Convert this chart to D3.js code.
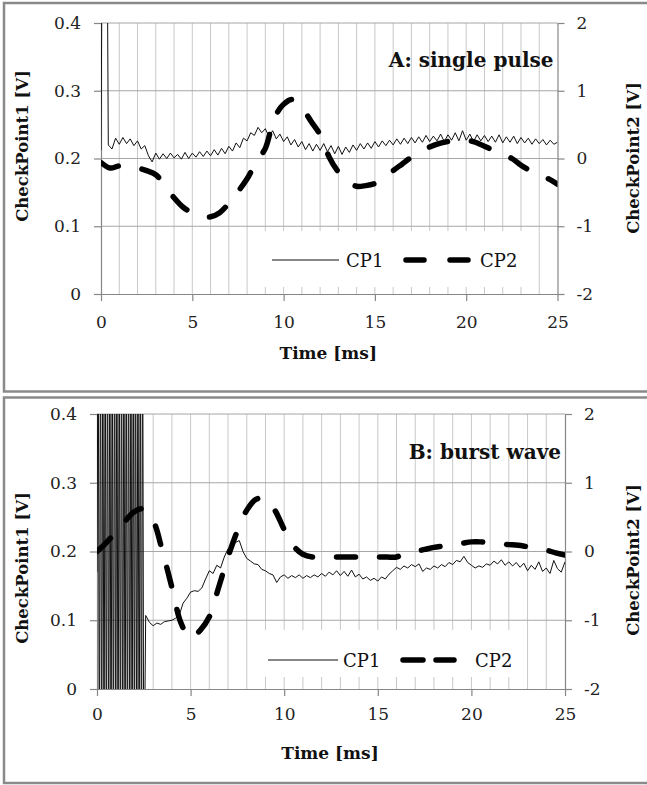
<!DOCTYPE html>
<html>
<head>
<meta charset="utf-8">
<script src="https://cdn.jsdelivr.net/npm/d3@7"></script>
<style>
  body { margin: 0; background: #fff; }
  svg { display: block; font-family: "DejaVu Serif", serif; }
  svg text { font-family: "DejaVu Serif", serif; }
</style>
</head>
<body>
<svg id="chart" width="647" height="785"></svg>
<script>
// ── Data ──
const xTicks = [0, 5, 10, 15, 20, 25];
const yTicksLeft = [0, 0.1, 0.2, 0.3, 0.4];
const yTicksRight = [-2, -1, 0, 1, 2];
const seriesNames = ["CP1", "CP2"];
const panelTitles = ["A: single pulse", "B: burst wave"];
const xTitle = "Time [ms]";
const yTitleLeft = "CheckPoint1 [V]";
const yTitleRight = "CheckPoint2 [V]";

// Panel A, CP1: one sample every 0.2 ms from 0 ms
const cp1AStart = 0, cp1AStep = 0.2;
const cp1A = [
  0.212, 1.20, 0.220, 0.214, 0.230, 0.221, 0.231, 0.222, 0.229, 0.219,
  0.226, 0.214, 0.219, 0.204, 0.195, 0.208, 0.199, 0.207, 0.200, 0.208,
  0.201, 0.206, 0.199, 0.209, 0.200, 0.208, 0.202, 0.210, 0.203, 0.211,
  0.204, 0.213, 0.205, 0.215, 0.207, 0.218, 0.211, 0.223, 0.216, 0.230,
  0.226, 0.238, 0.234, 0.246, 0.238, 0.244, 0.232, 0.241, 0.229, 0.236,
  0.225, 0.232, 0.220, 0.228, 0.217, 0.225, 0.213, 0.222, 0.211, 0.221,
  0.212, 0.222, 0.210, 0.219, 0.207, 0.218, 0.206, 0.217, 0.209, 0.220,
  0.212, 0.222, 0.214, 0.223, 0.215, 0.225, 0.217, 0.226, 0.219, 0.227,
  0.220, 0.229, 0.221, 0.230, 0.222, 0.231, 0.223, 0.232, 0.224, 0.234,
  0.225, 0.233, 0.226, 0.236, 0.225, 0.235, 0.227, 0.238, 0.226, 0.241,
  0.227, 0.236, 0.225, 0.235, 0.226, 0.234, 0.225, 0.233, 0.224, 0.235,
  0.223, 0.232, 0.224, 0.233, 0.222, 0.231, 0.223, 0.230, 0.221, 0.229,
  0.222, 0.228, 0.220, 0.227, 0.221, 0.224
];

// CP2: one sample every 0.5 ms from 0 ms (right axis)
const cp2Start = 0, cp2Step = 0.5;
const cp2A = [
  -0.06, -0.14, -0.11, -0.12, -0.14, -0.18, -0.24, -0.40, -0.58, -0.72,
  -0.80, -0.85, -0.86, -0.80, -0.66, -0.49, -0.30, -0.05, 0.15, 0.60,
  0.80, 0.87, 0.75, 0.55, 0.35, 0.02, -0.20, -0.34, -0.41, -0.40,
  -0.37, -0.30, -0.18, -0.08, 0.02, 0.10, 0.17, 0.22, 0.25, 0.27,
  0.27, 0.24, 0.18, 0.12, 0.06, 0.00, -0.10, -0.18, -0.25, -0.30,
  -0.38
];

// Panel B, CP1 burst: one sample every 0.0625 ms from 0 to 2.5 ms
const burstStart = 0, burstStep = 0.0625;
const cp1BBurst = [
  0.17, 0.60, -0.20, 0.60, -0.20, 0.60, -0.20, 0.60, -0.20, 0.60,
  -0.20, 0.60, -0.20, 0.60, -0.20, 0.60, -0.20, 0.60, -0.20, 0.60,
  -0.20, 0.60, -0.20, 0.60, -0.20, 0.60, -0.20, 0.60, -0.20, 0.60,
  -0.20, 0.60, -0.20, 0.60, -0.20, 0.60, -0.20, 0.60, -0.20, 0.60,
  -0.20
];

// Panel B, CP1 after the burst: one sample every 0.2 ms from 2.6 ms
const cp1BStart = 2.6, cp1BStep = 0.2;
const cp1B = [
  0.107, 0.097, 0.092, 0.096, 0.094, 0.098, 0.099, 0.100, 0.103, 0.108,
  0.125, 0.132, 0.141, 0.143, 0.142, 0.147, 0.160, 0.172, 0.168, 0.180,
  0.176, 0.192, 0.204, 0.208, 0.213, 0.216, 0.200, 0.190, 0.186, 0.182,
  0.181, 0.174, 0.172, 0.168, 0.166, 0.155, 0.163, 0.166, 0.161, 0.165,
  0.162, 0.166, 0.161, 0.165, 0.162, 0.166, 0.163, 0.168, 0.164, 0.170,
  0.166, 0.172, 0.165, 0.171, 0.164, 0.173, 0.163, 0.167, 0.160, 0.163,
  0.158, 0.161, 0.157, 0.163, 0.160, 0.167, 0.172, 0.177, 0.174, 0.179,
  0.176, 0.181, 0.178, 0.182, 0.171, 0.176, 0.174, 0.179, 0.176, 0.181,
  0.178, 0.184, 0.181, 0.187, 0.185, 0.193, 0.184, 0.180, 0.176, 0.179,
  0.177, 0.182, 0.180, 0.186, 0.182, 0.188, 0.180, 0.185, 0.179, 0.184,
  0.177, 0.183, 0.172, 0.180, 0.174, 0.185, 0.171, 0.176, 0.168, 0.187,
  0.175, 0.170, 0.185
];

const cp2B = [
  0.00, 0.13, 0.28, 0.44, 0.58, 0.62, 0.45, 0.00, -0.52, -1.05,
  -1.26, -1.15, -0.95, -0.52, -0.08, 0.30, 0.60, 0.76, 0.77, 0.60,
  0.32, 0.08, -0.04, -0.08, -0.08, -0.08, -0.08, -0.08, -0.08, -0.08,
  -0.08, -0.08, -0.08, -0.02, 0.00, 0.03, 0.06, 0.08, 0.10, 0.12,
  0.14, 0.14, 0.12, 0.11, 0.10, 0.09, 0.07, 0.05, 0.02, -0.02,
  -0.05
];

// ── Helpers ──
const toPoints = (vals, start, step) => vals.map((v, i) => ({ t: start + i * step, v }));

const AXIS = "#868686", GRID_H = "#a6a6a6", GRID_V = "#c8c8c8";
const FONT = "'DejaVu Serif', serif";

const panels = [
  {
    title: panelTitles[0],
    frame: { y0: 3, y1: 391.5 },
    plot: { l: 101, r: 557.5, t: 23, b: 294 },
    cp1: toPoints(cp1A, cp1AStart, cp1AStep),
    cp2: toPoints(cp2A, cp2Start, cp2Step),
    titleY: 67, xTitleY: 359, yTitleLeftY: 146, yTitleRightY: 158,
    xPad: 15,
    legend: { x: 255, y: 231, w: 277, h: 56, cy: 260,
      line: [272, 339], t1: 346, dash: [406, 468], dashArr: "18,26", t2: 480 }
  },
  {
    title: panelTitles[1],
    frame: { y0: 397.5, y1: 783 },
    plot: { l: 97, r: 565, t: 414, b: 689 },
    cp1: toPoints(cp1BBurst, burstStart, burstStep).concat(toPoints(cp1B, cp1BStart, cp1BStep)),
    cp2: toPoints(cp2B, cp2Start, cp2Step),
    titleY: 459, xTitleY: 759, yTitleLeftY: 568, yTitleRightY: 560,
    xPad: 12,
    legend: { x: 252, y: 630, w: 268, h: 47, cy: 660,
      line: [268, 338], t1: 343, dash: [403, 454], dashArr: "20,13", t2: 475 }
  }
];

const svg = d3.select("#chart");
const defs = svg.append("defs");

panels.forEach((p, pi) => {
  const P = p.plot;
  const g = svg.append("g");

  // ── Panel frame ──
  g.append("rect")
    .attr("x", 4).attr("y", p.frame.y0)
    .attr("width", 660).attr("height", p.frame.y1 - p.frame.y0)
    .attr("fill", "#fff").attr("stroke", "#8a8a8a").attr("stroke-width", 2.5);

  const x = d3.scaleLinear().domain([0, 25]).range([P.l, P.r]);
  const yL = d3.scaleLinear().domain([0, 0.4]).range([P.b, P.t]);
  const yR = d3.scaleLinear().domain([-2, 2]).range([P.b, P.t]);

  // ── Grid ──
  g.append("g").selectAll("line")
    .data(d3.range(1, 25))
    .join("line")
    .attr("x1", d => x(d)).attr("x2", d => x(d))
    .attr("y1", P.t).attr("y2", P.b)
    .attr("stroke", GRID_V).attr("stroke-width", 1);

  g.append("g").selectAll("line")
    .data(yTicksLeft.filter(d => d > 0))
    .join("line")
    .attr("x1", P.l).attr("x2", P.r)
    .attr("y1", d => yL(d)).attr("y2", d => yL(d))
    .attr("stroke", GRID_H).attr("stroke-width", 1);

  // ── Axes ──
  const styleAxis = (a) => {
    a.attr("font-family", FONT).attr("font-size", 17);
    a.select(".domain").attr("stroke", AXIS).attr("stroke-width", 1.2);
    a.selectAll(".tick line").attr("stroke", AXIS).attr("stroke-width", 1.2);
    a.selectAll("text").attr("fill", "#222");
  };

  const xAxis = g.append("g")
    .attr("transform", `translate(0,${P.b})`)
    .call(d3.axisBottom(x).tickValues(xTicks).tickSize(7).tickSizeOuter(0)
      .tickPadding(p.xPad).tickFormat(d => String(d)));
  styleAxis(xAxis);

  const yAxisL = g.append("g")
    .attr("transform", `translate(${P.l},0)`)
    .call(d3.axisLeft(yL).tickValues(yTicksLeft).tickSize(7).tickSizeOuter(0)
      .tickPadding(13).tickFormat(d => (d === 0 ? "0" : d.toFixed(1))));
  styleAxis(yAxisL);

  const yAxisR = g.append("g")
    .attr("transform", `translate(${P.r},0)`)
    .call(d3.axisRight(yR).tickValues(yTicksRight).tickSize(7).tickSizeOuter(0)
      .tickPadding(12).tickFormat(d => String(d)));
  styleAxis(yAxisR);

  // ── Axis titles ──
  g.append("text")
    .attr("x", (P.l + P.r) / 2 - 1).attr("y", p.xTitleY)
    .attr("text-anchor", "middle").attr("font-weight", "bold")
    .attr("font-size", 17).attr("fill", "#111")
    .text(xTitle);

  g.append("text")
    .attr("transform", `translate(28,${p.yTitleLeftY}) rotate(-90)`)
    .attr("text-anchor", "middle").attr("font-weight", "bold")
    .attr("font-size", 16.5).attr("fill", "#111")
    .text(yTitleLeft);

  g.append("text")
    .attr("transform", `translate(639,${p.yTitleRightY}) rotate(-90)`)
    .attr("text-anchor", "middle").attr("font-weight", "bold")
    .attr("font-size", 16.5).attr("fill", "#111")
    .text(yTitleRight);

  // ── Clip ──
  const clipId = `clip${pi}`;
  defs.append("clipPath").attr("id", clipId)
    .append("rect")
    .attr("x", P.l).attr("y", P.t)
    .attr("width", P.r - P.l).attr("height", P.b - P.t);

  const plot = g.append("g").attr("clip-path", `url(#${clipId})`);

  // CP1 (thin, left axis)
  plot.append("path")
    .datum(p.cp1)
    .attr("d", d3.line().x(d => x(d.t)).y(d => yL(d.v)))
    .attr("fill", "none").attr("stroke", "#111").attr("stroke-width", 1);

  // CP2 (thick dashed, right axis)
  plot.append("path")
    .datum(p.cp2)
    .attr("d", d3.line().x(d => x(d.t)).y(d => yR(d.v)).curve(d3.curveCatmullRom.alpha(0.5)))
    .attr("fill", "none").attr("stroke", "#000").attr("stroke-width", 5.5)
    .attr("stroke-linecap", "round").attr("stroke-dasharray", "19,24");

  // ── Panel title ──
  g.append("text")
    .attr("x", P.r - 4).attr("y", p.titleY)
    .attr("text-anchor", "end").attr("font-weight", "bold")
    .attr("font-size", 20).attr("fill", "#111")
    .text(p.title);

  // ── Legend ──
  const L = p.legend;
  const lg = g.append("g");
  lg.append("rect")
    .attr("x", L.x).attr("y", L.y).attr("width", L.w).attr("height", L.h)
    .attr("fill", "#fff");
  lg.append("line")
    .attr("x1", L.line[0]).attr("x2", L.line[1])
    .attr("y1", L.cy).attr("y2", L.cy)
    .attr("stroke", "#111").attr("stroke-width", 1);
  lg.append("text")
    .attr("x", L.t1).attr("y", L.cy + 6.5)
    .attr("font-size", 18).attr("fill", "#111")
    .text(seriesNames[0]);
  lg.append("line")
    .attr("x1", L.dash[0]).attr("x2", L.dash[1])
    .attr("y1", L.cy).attr("y2", L.cy)
    .attr("stroke", "#000").attr("stroke-width", 5.5)
    .attr("stroke-linecap", "round").attr("stroke-dasharray", L.dashArr);
  lg.append("text")
    .attr("x", L.t2).attr("y", L.cy + 6.5)
    .attr("font-size", 18).attr("fill", "#111")
    .text(seriesNames[1]);
});
</script>
</body>
</html>
